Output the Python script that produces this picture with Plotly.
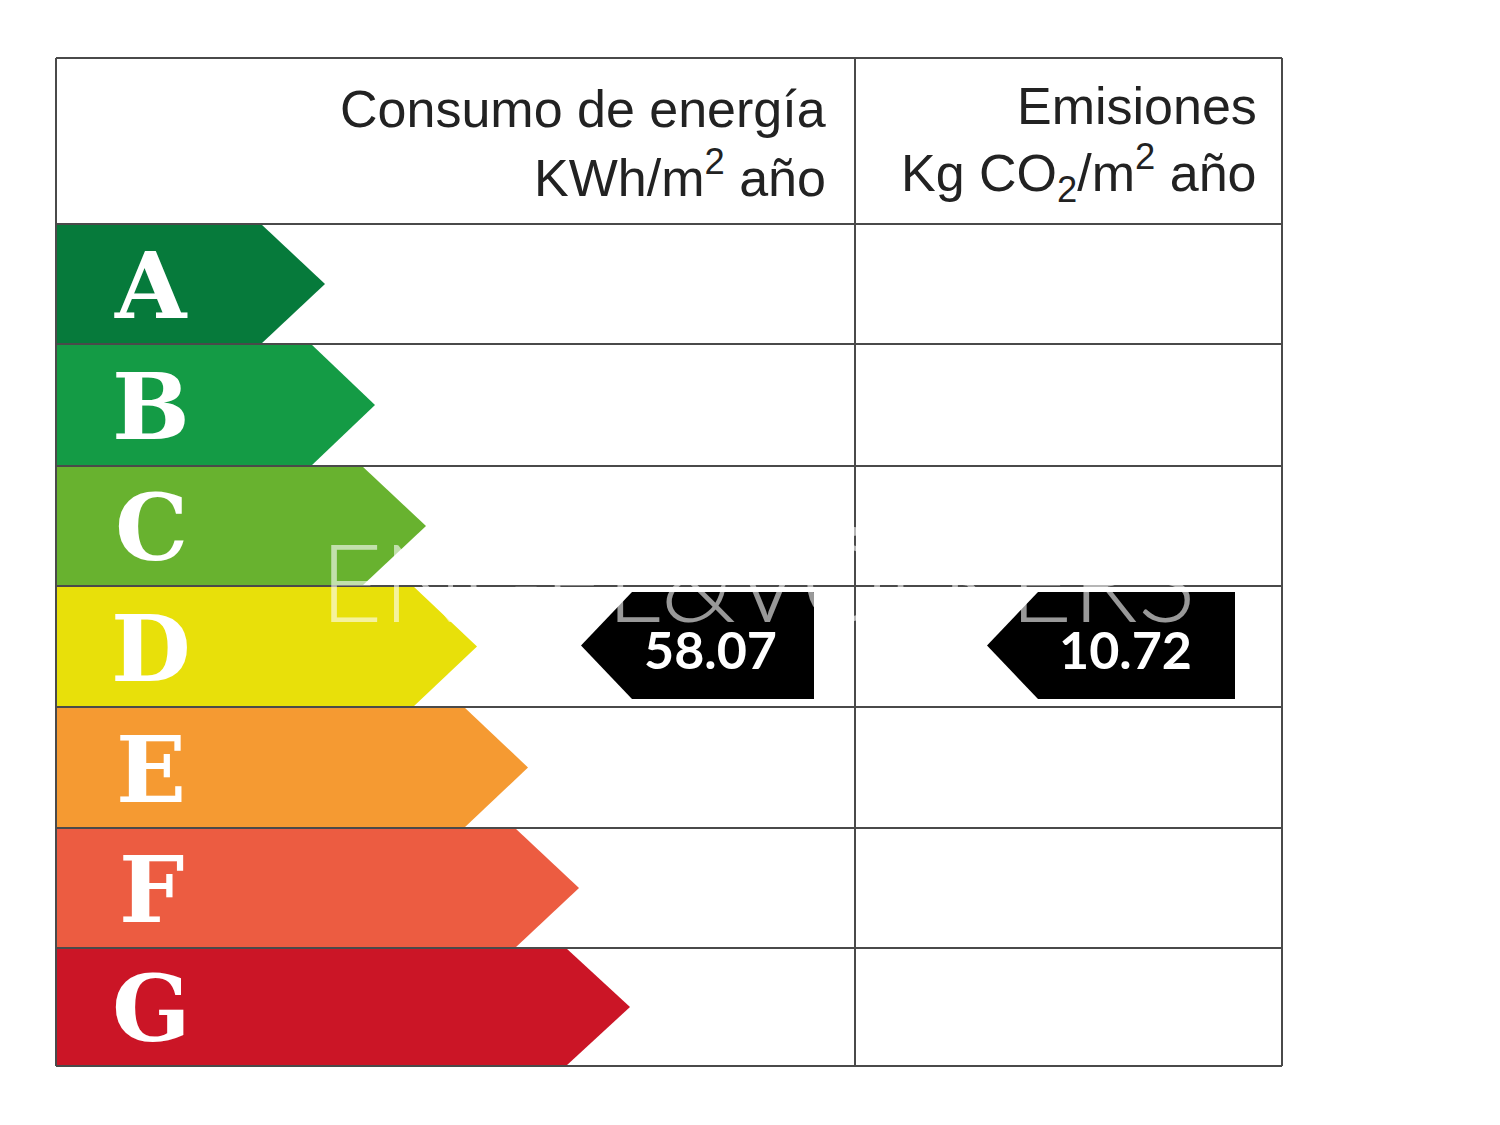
# energy certificate label, grades A-G with two rating markers
import plotly.graph_objects as go

grades = ["A", "B", "C", "D", "E", "F", "G"]
grade_colors = ["#067a3b", "#149b45", "#68b22f", "#e8e00a", "#f59a32", "#ec5c41", "#cb1526"]
grade_tips = [317, 367, 418, 469, 520, 571, 622]
row_edges = [216, 336, 458, 578, 699, 820, 940, 1058]
col_edges = [48, 847, 1274]
table_top = 50

rating_labels = ["58.07", "10.72"]
rating_tips = [573, 979]
rating_ends = [806, 1227]

head_size = 52
arrow_head = 64

fig = go.Figure()

# colour arrows
for i, g in enumerate(grades):
    top, bottom = row_edges[i], row_edges[i + 1]
    tip = grade_tips[i]
    fig.add_trace(go.Scatter(
        x=[col_edges[0], tip - arrow_head, tip, tip - arrow_head, col_edges[0], col_edges[0]],
        y=[top, top, (top + bottom) / 2, bottom, bottom, top],
        fill="toself", fillcolor=grade_colors[i], mode="lines", line=dict(width=0),
        hoverinfo="skip", showlegend=False))
    fig.add_annotation(x=143, y=(top + bottom) / 2 + 2, text=g, showarrow=False,
                       font=dict(family="DejaVu Serif", size=92, color="white", weight=700))

# table lines
xs, ys = [], []
for y in [table_top] + row_edges:
    xs += [col_edges[0], col_edges[-1], None]
    ys += [y, y, None]
for x in col_edges:
    xs += [x, x, None]
    ys += [table_top, row_edges[-1], None]
fig.add_trace(go.Scatter(x=xs, y=ys, mode="lines", line=dict(color="#4a4a4a", width=2),
                         hoverinfo="skip", showlegend=False))

# black rating markers, both sit in row D
top, bottom = 584, 691
for label, tip, end in zip(rating_labels, rating_tips, rating_ends):
    fig.add_trace(go.Scatter(
        x=[tip, tip + 51, end, end, tip + 51, tip],
        y=[(top + bottom) / 2, top, top, bottom, bottom, (top + bottom) / 2],
        fill="toself", fillcolor="black", mode="lines", line=dict(width=0),
        hoverinfo="skip", showlegend=False))
    fig.add_annotation(x=tip + 129 if tip < 800 else tip + 138, y=641, text=label, showarrow=False,
                       font=dict(family="Lato", size=52, color="white", weight=700))

# header text
head_font = dict(family="Liberation Sans", size=head_size, color="#222222")
fig.add_annotation(x=820, y=101, text="Consumo de energía", xanchor="right", showarrow=False, font=head_font)
fig.add_annotation(x=820, y=166, text="KWh/m<sup>2</sup> año", xanchor="right", showarrow=False, font=head_font)
fig.add_annotation(x=1251, y=98, text="Emisiones", xanchor="right", showarrow=False, font=head_font)
fig.add_annotation(x=1251, y=165, text="Kg CO<sub>2</sub>/m<sup>2</sup> año", xanchor="right", showarrow=False, font=head_font)

# watermark
fig.add_annotation(x=750, y=572, text="ENGEL&amp;VÖLKERS", showarrow=False, opacity=0.6,
                   font=dict(family="Lato", size=108, color="white", weight=300))

fig.update_xaxes(range=[0, 1500], visible=False, fixedrange=True)
fig.update_yaxes(range=[1125, 0], visible=False, fixedrange=True)
fig.update_layout(width=1500, height=1125, margin=dict(l=0, r=0, t=0, b=0),
                  paper_bgcolor="white", plot_bgcolor="white")

fig.write_html("out.html")
